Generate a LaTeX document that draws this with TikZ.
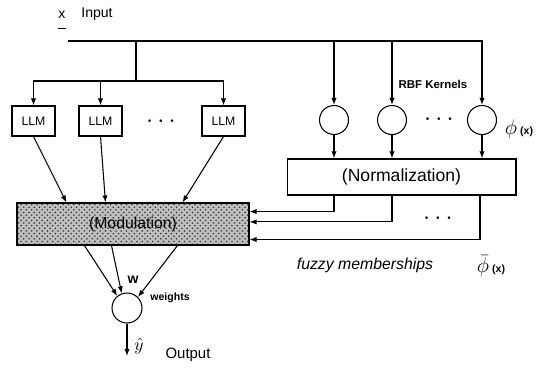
\documentclass[tikz,border=0pt]{standalone}
\usepackage{fontspec}
\setmainfont{Liberation Sans}
\usetikzlibrary{arrows.meta, calc, patterns, positioning}

\tikzset{
  arr/.style={-{Latex[length=4pt,width=3pt]}},
  llmbox/.style={draw, semithick, minimum width=0.86cm, minimum height=0.6cm, inner sep=0pt, font=\fontsize{7}{8}\selectfont},
  kernel/.style={draw, semithick, circle, minimum size=0.58cm, inner sep=0pt},
  bigbox/.style={draw, semithick, inner sep=0pt},
  dotsl/.style={font=\Large},
}

\begin{document}
\begin{tikzpicture}[x=0.02cm, y=-0.02cm, semithick]
    \useasboundingbox (0,0) rectangle (537,368);

    % Input line and branching
    \node (xin) at (62,20) {\fontsize{8}{9}\selectfont\underline{\raisebox{0pt}[\height][4.5pt]{x}}};
    \node (inlbl) at (97,14) {\fontsize{8}{9}\selectfont Input};
    \coordinate (inl) at (68,41);
    \coordinate (br) at (136,81);

    % Local linear models (left)
    \foreach \i/\x in {1/33.5, 2/100.5, 3/223.5} {
        \node[llmbox] (llm\i) at (\x,121) {LLM};
    }
    \node[dotsl] (ldots) at (161,122) {$\cdots$};

    % RBF kernels (right)
    \foreach \i/\x in {1/334, 2/392, 3/482} {
        \node[kernel] (k\i) at (\x,120) {};
    }
    \node[dotsl] (kdots) at (439,120) {$\cdots$};
    \node[font=\fontsize{6.5}{7}\selectfont\bfseries] (rbf) at (433,84) {RBF Kernels};
    \node (phi) at (519,129) {{\large$\phi$}\,{\fontsize{6}{7}\selectfont\bfseries(x)}};

    % Normalization and modulation blocks
    \node[bigbox, minimum width=4.58cm, minimum height=0.72cm] (norm) at (401.5,177) {(Normalization)};
    \node[bigbox, minimum width=4.64cm, minimum height=0.84cm,
          preaction={fill=gray!50}, pattern=crosshatch dots, pattern color=black!80,
          font=\fontsize{9}{10}\selectfont] (mod) at (133,224) {(Modulation)};
    \node[dotsl] (ndots) at (438,219) {$\cdots$};

    % Output neuron
    \node[kernel, minimum size=0.6cm] (out) at (127,308) {};
    \coordinate (yend) at (127,356);
    \node (w) at (133,280) {\fontsize{8}{9}\selectfont\bfseries w};
    \node[font=\fontsize{6}{7}\selectfont\bfseries] (wts) at (170,298) {weights};
    \node (yhat) at (139,346) {$\hat{y}$};
    \node[font=\fontsize{8.5}{10}\selectfont] (outlbl) at (188,355) {Output};
    \node[font=\fontsize{9}{10}\selectfont\itshape] (fuzzy) at (365,265) {fuzzy memberships};
    \node (phibar) at (491,266) {{\large$\bar{\phi}$}\,{\fontsize{6}{7}\selectfont\bfseries(x)}};

    % Connections
    \draw[arr] (inl) -| (k3);
    \draw[arr] (k1 |- inl) -- (k1);
    \draw[arr] (k2 |- inl) -- (k2);
    \draw (br |- inl) -- (br);
    \draw[arr] (br) -| (llm1);
    \draw[arr] (br) -| (llm3);
    \draw[arr] (llm2 |- br) -- (llm2);
    \foreach \i in {1,2,3} {
        \draw[arr] (k\i) -- (k\i |- norm.north);
    }
    \draw[arr] (llm1.south) -- ([xshift=1.0cm]mod.north west);
    \draw[arr] (llm2.south) -- ([xshift=1.78cm]mod.north west);
    \draw[arr] (llm3.south) -- ([xshift=3.32cm]mod.north west);
    \draw[arr] (k1 |- norm.south) |- ($(mod.north east)!.21!(mod.south east)$);
    \draw[arr] (k2 |- norm.south) |- ($(mod.north east)!.45!(mod.south east)$);
    \draw[arr] ([xshift=-0.04cm]k3 |- norm.south) |- ($(mod.north east)!.86!(mod.south east)$);
    \draw[arr] ([xshift=1.36cm]mod.south west) -- (out.129);
    \draw[arr] ([xshift=1.9cm]mod.south west) -- (out.110);
    \draw[arr] ([xshift=3.22cm]mod.south west) -- (out.45);
    \draw[arr] (out) -- (yend);
\end{tikzpicture}
\end{document}
